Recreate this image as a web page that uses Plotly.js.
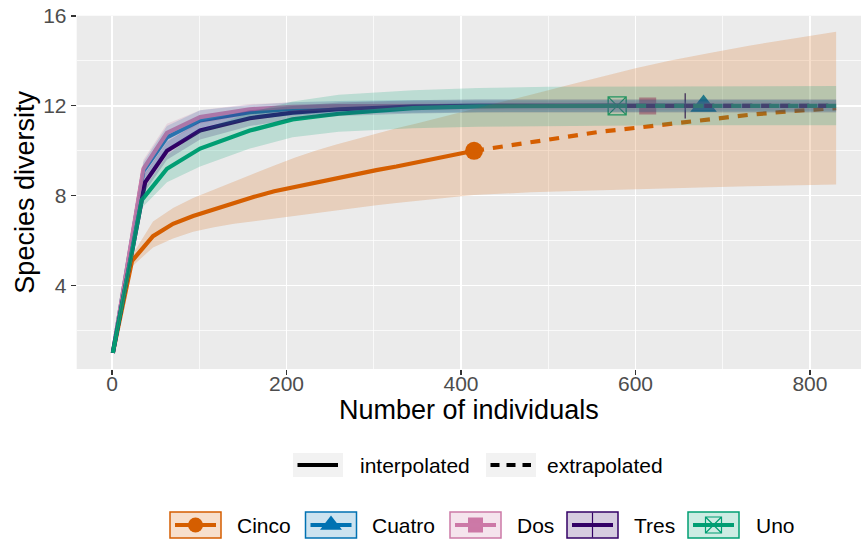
<!DOCTYPE html>
<html><head><meta charset="utf-8">
<script src="https://cdn.plot.ly/plotly-3.0.1.min.js"></script>
<style>html,body{margin:0;padding:0;background:#fff}#chart{width:861px;height:540px}</style>
</head><body><div id="chart"></div>
<script>
// ---------------- data ----------------
const sites = ['Cinco', 'Cuatro', 'Dos', 'Tres', 'Uno'];
const methods = ['interpolated', 'extrapolated'];
const xTicks = [0, 200, 400, 600, 800];
const yTicks = [4, 8, 12, 16];

// observed sample size and diversity per site
const obsN = [415, 678, 614, 657, 579];
const obsS = [10, 12, 12, 12, 12];

const cincoN  = [1, 23, 47, 70, 93, 117, 140, 163, 186, 210, 233, 256, 279, 303, 326, 349, 372, 395, 415, 440, 480, 520, 560, 600, 640, 685, 730, 780, 830];
const cincoS  = [1, 5.1, 6.2, 6.75, 7.1, 7.4, 7.7, 7.95, 8.2, 8.4, 8.6, 8.78, 8.96, 9.14, 9.3, 9.48, 9.65, 9.83, 10.0, 10.15, 10.4, 10.65, 10.85, 11.02, 11.2, 11.42, 11.6, 11.77, 11.9];
const cincoLo = [1, 4.85, 5.7, 6.1, 6.4, 6.6, 6.75, 6.87, 6.98, 7.1, 7.22, 7.34, 7.45, 7.58, 7.68, 7.78, 7.87, 7.95, 8.03, 8.08, 8.15, 8.2, 8.25, 8.3, 8.34, 8.38, 8.42, 8.46, 8.5];
const cincoHi = [1, 5.35, 6.85, 7.45, 7.9, 8.3, 8.65, 9.0, 9.35, 9.7, 10.0, 10.27, 10.52, 10.77, 11.0, 11.22, 11.45, 11.65, 11.85, 12.1, 12.5, 12.9, 13.3, 13.68, 14.02, 14.35, 14.68, 15.0, 15.3];

const cuatroN  = [1, 36, 63, 101, 158, 207, 260, 320, 400, 500, 600, 678, 720, 780, 830];
const cuatroS  = [1, 9.1, 10.6, 11.35, 11.72, 11.88, 11.95, 11.98, 12, 12, 12, 12, 12, 12, 12];
const cuatroLo = [1, 8.7, 10.1, 10.9, 11.4, 11.58, 11.66, 11.7, 11.72, 11.73, 11.74, 11.75, 11.75, 11.75, 11.75];
const cuatroHi = [1, 9.5, 11.1, 11.8, 12.04, 12.16, 12.22, 12.25, 12.26, 12.26, 12.26, 12.26, 12.26, 12.26, 12.26];

const dosN  = [1, 36, 63, 101, 158, 207, 260, 320, 400, 500, 614, 680, 750, 830];
const dosS  = [1, 9.2, 10.8, 11.5, 11.85, 11.96, 11.99, 12, 12, 12, 12, 12, 12, 12];
const dosLo = [1, 8.8, 10.4, 11.2, 11.62, 11.76, 11.8, 11.8, 11.8, 11.8, 11.8, 11.8, 11.8, 11.8];
const dosHi = [1, 9.6, 11.2, 11.8, 12.08, 12.16, 12.2, 12.2, 12.2, 12.2, 12.2, 12.2, 12.2, 12.2];

const tresN  = [1, 38, 63, 101, 158, 207, 260, 345, 420, 500, 580, 657, 720, 780, 830];
const tresS  = [1, 8.6, 10.0, 10.9, 11.45, 11.7, 11.85, 11.97, 12, 12, 12, 12, 12, 12, 12];
const tresLo = [1, 8.2, 9.6, 10.5, 11.1, 11.4, 11.55, 11.66, 11.7, 11.7, 11.7, 11.7, 11.7, 11.7, 11.7];
const tresHi = [1, 9.0, 10.4, 11.3, 11.8, 12.0, 12.15, 12.25, 12.3, 12.3, 12.3, 12.3, 12.3, 12.3, 12.3];

const unoN  = [1, 34, 63, 101, 158, 207, 260, 345, 420, 500, 579, 640, 700, 760, 830];
const unoS  = [1, 7.8, 9.2, 10.1, 10.9, 11.4, 11.65, 11.9, 11.98, 12, 12, 12, 12, 12, 12];
const unoLo = [1, 7.45, 8.6, 9.3, 10.1, 10.6, 10.85, 11.0, 11.07, 11.1, 11.14, 11.14, 11.14, 11.14, 11.14];
const unoHi = [1, 8.15, 9.8, 10.9, 11.7, 12.2, 12.5, 12.7, 12.8, 12.85, 12.88, 12.88, 12.88, 12.88, 12.88];

const seriesN  = [cincoN, cuatroN, dosN, tresN, unoN];
const seriesS  = [cincoS, cuatroS, dosS, tresS, unoS];
const seriesLo = [cincoLo, cuatroLo, dosLo, tresLo, unoLo];
const seriesHi = [cincoHi, cuatroHi, dosHi, tresHi, unoHi];

// ---------------- styles ----------------
const colors  = ['#D55E00', '#0072B2', '#CC79A7', '#330066', '#009E73'];
const symbols = ['circle', 'triangle-up', 'square', 'cross-thin-open', 'square-x-open'];
const msize   = [18, 23, 17, 18, 18];
const legMsize = [15, 19, 15, 18, 16];
const FONT = '"Liberation Sans", Arial, Helvetica, sans-serif';
const W = 861, H = 540;
const panel = {left: 76.7, top: 15.7, bottom: 369};
const lineW = 4.2;

function rgba(hex, a) {
  const v = parseInt(hex.slice(1), 16);
  return 'rgba(' + (v >> 16 & 255) + ',' + (v >> 8 & 255) + ',' + (v & 255) + ',' + a + ')';
}

const traces = [];
// points first (ggplot draws points, then lines, then ribbons)
sites.forEach((s, i) => {
  const open = symbols[i].indexOf('open') >= 0;
  traces.push({
    type: 'scatter', mode: 'markers', x: [obsN[i]], y: [obsS[i]], hoverinfo: 'skip', showlegend: false,
    marker: {symbol: symbols[i], size: msize[i], color: colors[i],
             line: {color: colors[i], width: open ? 1.3 : 0}}
  });
});
// lines
sites.forEach((s, i) => {
  const n = seriesN[i], y = seriesS[i];
  const ix = [], iy = [], ex = [], ey = [];
  n.forEach((v, k) => {
    if (v <= obsN[i]) { ix.push(v); iy.push(y[k]); }
    if (v >= obsN[i]) { ex.push(v); ey.push(y[k]); }
  });
  traces.push({type: 'scatter', mode: 'lines', x: ix, y: iy, name: s + ' ' + methods[0], showlegend: false,
    hoverinfo: 'skip', line: {color: colors[i], width: lineW}});
  traces.push({type: 'scatter', mode: 'lines', x: ex, y: ey, name: s + ' ' + methods[1], showlegend: false,
    hoverinfo: 'skip', line: {color: colors[i], width: lineW, dash: '10px,9px'}});
});
// ribbons on top
sites.forEach((s, i) => {
  const n = seriesN[i];
  traces.push({type: 'scatter', mode: 'lines', fill: 'toself', showlegend: false, hoverinfo: 'skip',
    x: n.concat(n.slice().reverse()),
    y: seriesLo[i].concat(seriesHi[i].slice().reverse()),
    line: {width: 0, color: colors[i]}, fillcolor: rgba(colors[i], 0.2)});
});

// ---------------- custom legends (ggplot style) on an overlay pixel subplot ----------------
const legendRows = {
  line: {y: 465, keyX: [293, 486], textX: [358, 545], keyW: 50, keyH: 24},
  site: {y: 525, keyX: [170, 305.5, 450, 567, 688], textX: [235, 370, 515, 632, 754], keyW: 51, keyH: 26}
};
const shapes = [];
const annotations = [];

// panel background
shapes.push({type: 'rect', xref: 'x domain', yref: 'y domain', x0: 0, x1: 1, y0: 0, y1: 1,
  fillcolor: '#EBEBEB', line: {width: 0}, layer: 'below'});

const LR = legendRows.line;
methods.forEach((m, j) => {
  const x0 = LR.keyX[j];
  shapes.push({type: 'rect', xref: 'x2', yref: 'y2', x0: x0, x1: x0 + LR.keyW,
    y0: LR.y - LR.keyH / 2, y1: LR.y + LR.keyH / 2, fillcolor: '#F2F2F2', line: {width: 0}});
  shapes.push({type: 'line', xref: 'x2', yref: 'y2', x0: x0 + 4.5, x1: x0 + LR.keyW - 5, y0: LR.y, y1: LR.y,
    line: {color: '#000', width: 4, dash: j === 0 ? 'solid' : '9px,7px'}});
  annotations.push({xref: 'x2', yref: 'y2', x: LR.textX[j], y: LR.y, text: m, showarrow: false,
    xanchor: 'left', yanchor: 'middle', font: {family: FONT, size: 21, color: '#000'}});
});

const SR = legendRows.site;
sites.forEach((s, i) => {
  const x0 = SR.keyX[i];
  const cx = x0 + SR.keyW / 2;
  shapes.push({type: 'rect', xref: 'x2', yref: 'y2', x0: x0, x1: x0 + SR.keyW,
    y0: SR.y - SR.keyH / 2, y1: SR.y + SR.keyH / 2, fillcolor: rgba(colors[i], 0.2),
    line: {color: colors[i], width: 1.5}});
  shapes.push({type: 'line', xref: 'x2', yref: 'y2', x0: x0 + 5, x1: x0 + SR.keyW - 5, y0: SR.y, y1: SR.y,
    line: {color: colors[i], width: lineW}});
  const open = symbols[i].indexOf('open') >= 0;
  traces.push({type: 'scatter', mode: 'markers', xaxis: 'x2', yaxis: 'y2', x: [cx], y: [SR.y],
    showlegend: false, hoverinfo: 'skip',
    marker: {symbol: symbols[i], size: legMsize[i], color: colors[i], line: {color: colors[i], width: open ? 1.2 : 0}}});
  annotations.push({xref: 'x2', yref: 'y2', x: SR.textX[i], y: SR.y, text: s, showarrow: false,
    xanchor: 'left', yanchor: 'middle', font: {family: FONT, size: 21, color: '#000'}});
});

const layout = {
  width: W, height: H,
  margin: {l: 0, r: 0, t: 0, b: 0, pad: 0},
  paper_bgcolor: '#FFFFFF', plot_bgcolor: 'rgba(0,0,0,0)',
  showlegend: false,
  font: {family: FONT, color: '#000'},
  xaxis: {
    domain: [panel.left / W, 1], range: [-40.45, 858.5],
    tickmode: 'array', tickvals: xTicks, ticktext: xTicks.map(String),
    ticks: 'outside', ticklen: 5, tickwidth: 1.1, tickcolor: '#333333',
    ticklabelstandoff: -9,
    tickfont: {family: FONT, size: 21, color: '#4D4D4D'},
    showgrid: true, gridcolor: '#FFFFFF', gridwidth: 1.5,
    minor: {tickmode: 'array', tickvals: [100, 300, 500, 700], showgrid: true, gridcolor: '#FFFFFF', gridwidth: 0.7, ticks: ''},
    zeroline: false, showline: false, automargin: false, fixedrange: true,
    title: {text: 'Number of individuals', font: {family: FONT, size: 27, color: '#000'}, standoff: 4}
  },
  yaxis: {
    domain: [1 - panel.bottom / H, 1 - panel.top / H], range: [0.285, 16.015],
    tickmode: 'array', tickvals: yTicks, ticktext: yTicks.map(String),
    ticks: 'outside', ticklen: 5, tickwidth: 1.1, tickcolor: '#333333',
    tickfont: {family: FONT, size: 21, color: '#4D4D4D'},
    showgrid: true, gridcolor: '#FFFFFF', gridwidth: 1.5,
    minor: {tickmode: 'array', tickvals: [2, 6, 10, 14], showgrid: true, gridcolor: '#FFFFFF', gridwidth: 0.7, ticks: ''},
    zeroline: false, showline: false, automargin: false, fixedrange: true,
    title: {text: 'Species diversity', font: {family: FONT, size: 27, color: '#000'}, standoff: 0}
  },
  xaxis2: {domain: [0, 1], range: [0, W], visible: false, fixedrange: true},
  yaxis2: {domain: [0, 1], range: [H, 0], visible: false, fixedrange: true},
  shapes: shapes,
  annotations: annotations
};

Plotly.newPlot('chart', traces, layout, {staticPlot: true, displayModeBar: false});
</script>
</body></html>
